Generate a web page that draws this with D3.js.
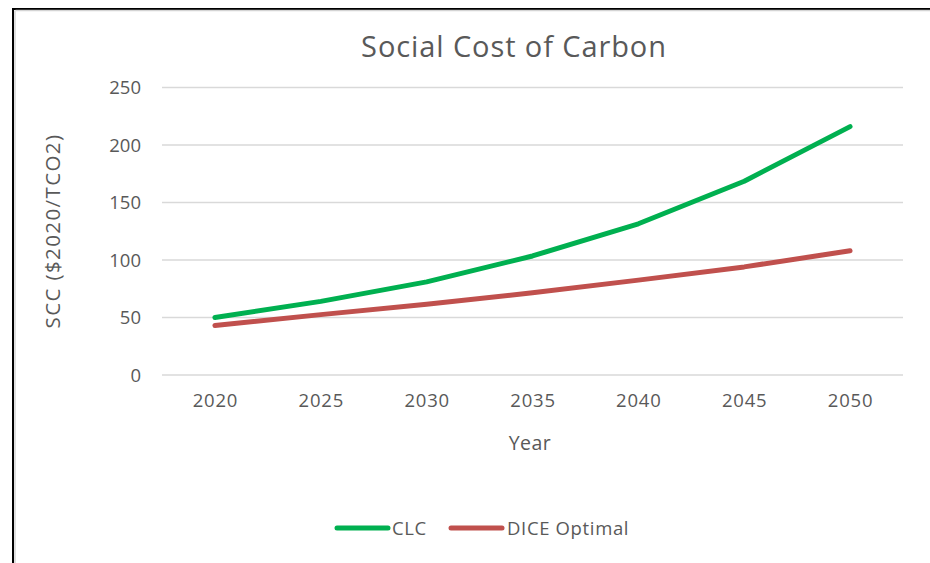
<!DOCTYPE html>
<html>
<head>
<meta charset="utf-8">
<script src="https://cdn.jsdelivr.net/npm/d3@7"></script>
<style>
  html, body { margin: 0; padding: 0; background: #fff; }
  svg { display: block; }
  text { font-family: "Open Sans", sans-serif; fill: #595959; }
</style>
</head>
<body>
<div id="chart"></div>
<script>
const years = ["2020", "2025", "2030", "2035", "2040", "2045", "2050"];
const clc = [50, 64, 81, 103.5, 131.5, 168.5, 216];
const dice = [43, 52.5, 61.5, 71.5, 82.5, 94, 108];
const yTicks = [0, 50, 100, 150, 200, 250];
const seriesNames = ["CLC", "DICE Optimal"];
const seriesColors = ["#00B050", "#C0504D"];

(function () {
const W = 930, H = 563;
const svg = d3.select("#chart").append("svg").attr("width", W).attr("height", H);

// chart frame (black border with light shadow)
svg.append("line").attr("x1", 13).attr("x2", W).attr("y1", 9).attr("y2", 9)
  .attr("stroke", "#000").attr("stroke-width", 2);
svg.append("line").attr("x1", 13).attr("x2", 13).attr("y1", 8).attr("y2", H)
  .attr("stroke", "#000").attr("stroke-width", 2);
svg.append("line").attr("x1", 15.5).attr("x2", W).attr("y1", 10.5).attr("y2", 10.5)
  .attr("stroke", "#d4d4d4").attr("stroke-width", 1.5);
svg.append("line").attr("x1", 15).attr("x2", 15).attr("y1", 10.5).attr("y2", H)
  .attr("stroke", "#d4d4d4").attr("stroke-width", 1.5);

const pLeft = 162, pRight = 903, pTop = 87.5, pBottom = 375;

const x = d3.scalePoint().domain(years).range([pLeft, pRight]).padding(0.5);
const y = d3.scaleLinear().domain([0, 250]).range([pBottom, pTop]);

// gridlines
svg.append("g").selectAll("line").data(yTicks).join("line")
  .attr("x1", pLeft).attr("x2", pRight)
  .attr("y1", d => y(d)).attr("y2", d => y(d))
  .attr("stroke", "#d9d9d9").attr("stroke-width", 1.5);

// y axis labels
const yAxis = d3.axisLeft(y).tickValues(yTicks).tickSize(0).tickPadding(0);
const gy = svg.append("g").attr("transform", `translate(${pLeft - 21},0)`).call(yAxis);
gy.select(".domain").remove();
gy.selectAll("text").attr("font-size", 18.5).attr("fill", "#595959")
  .style("font-family", "'Open Sans', sans-serif").attr("dy", "0.35em");

// x axis labels
const xAxis = d3.axisBottom(x).tickSize(0).tickPadding(0);
const gx = svg.append("g").attr("transform", `translate(0,${pBottom + 18})`).call(xAxis);
gx.select(".domain").remove();
gx.selectAll("text").attr("font-size", 18.5).attr("fill", "#595959")
  .style("font-family", "'Open Sans', sans-serif").attr("dy", "0.75em")
  .attr("letter-spacing", 0.8);

// lines
const line = d3.line().x((d, i) => x(years[i])).y(d => y(d));
[clc, dice].forEach((s, k) => {
  svg.append("path").datum(s).attr("d", line)
    .attr("fill", "none").attr("stroke", seriesColors[k])
    .attr("stroke-width", 5).attr("stroke-linecap", "round").attr("stroke-linejoin", "round");
});

// title
svg.append("text").attr("x", 514).attr("y", 57).attr("text-anchor", "middle")
  .attr("font-size", 29).attr("letter-spacing", 0.9).text("Social Cost of Carbon");

// axis titles
svg.append("text").attr("x", 530).attr("y", 450).attr("text-anchor", "middle")
  .attr("font-size", 19.5).attr("letter-spacing", 0.5).text("Year");
svg.append("text").attr("transform", "translate(60,231) rotate(-90)")
  .attr("text-anchor", "middle").attr("font-size", 20.5).attr("letter-spacing", 1.4)
  .text("SCC ($2020/TCO2)");

// legend
const legendItems = [
  { name: seriesNames[0], color: seriesColors[0], x1: 337, x2: 388, tx: 392 },
  { name: seriesNames[1], color: seriesColors[1], x1: 451, x2: 502, tx: 507 }
];
const lg = svg.append("g");
legendItems.forEach(it => {
  lg.append("line").attr("x1", it.x1).attr("x2", it.x2).attr("y1", 528).attr("y2", 528)
    .attr("stroke", it.color).attr("stroke-width", 5).attr("stroke-linecap", "round");
  lg.append("text").attr("x", it.tx).attr("y", 535).attr("font-size", 18.5)
    .attr("letter-spacing", 0.65).text(it.name);
});
})();
</script>
</body>
</html>
